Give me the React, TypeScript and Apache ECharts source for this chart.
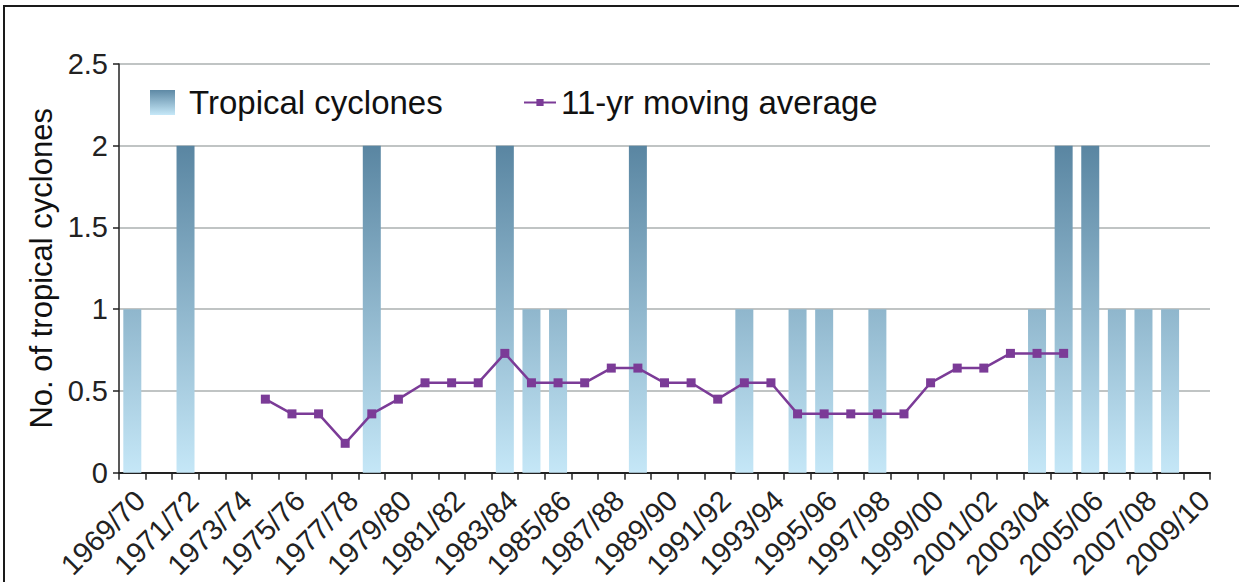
import React, { useEffect, useRef } from "react";
import * as echarts from "echarts";

const categories = [
  "1969/70", "1970/71", "1971/72", "1972/73", "1973/74", "1974/75", "1975/76",
  "1976/77", "1977/78", "1978/79", "1979/80", "1980/81", "1981/82", "1982/83",
  "1983/84", "1984/85", "1985/86", "1986/87", "1987/88", "1988/89", "1989/90",
  "1990/91", "1991/92", "1992/93", "1993/94", "1994/95", "1995/96", "1996/97",
  "1997/98", "1998/99", "1999/00", "2000/01", "2001/02", "2002/03", "2003/04",
  "2004/05", "2005/06", "2006/07", "2007/08", "2008/09", "2009/10",
];

const cyclones = [
  1, 0, 2, 0, 0, 0, 0, 0, 0, 2, 0, 0, 0, 0, 2, 1, 1, 0, 0, 2, 0,
  0, 0, 1, 0, 1, 1, 0, 1, 0, 0, 0, 0, 0, 1, 2, 2, 1, 1, 1, 0,
];

const movingAverage = [
  null, null, null, null, null, 0.45, 0.36, 0.36, 0.18, 0.36, 0.45,
  0.55, 0.55, 0.55, 0.73, 0.55, 0.55, 0.55, 0.64, 0.64, 0.55,
  0.55, 0.45, 0.55, 0.55, 0.36, 0.36, 0.36, 0.36, 0.36, 0.55,
  0.64, 0.64, 0.73, 0.73, 0.73, null, null, null, null, null,
];

const yTicks = [0, 0.5, 1, 1.5, 2, 2.5];

const FONT = "'Liberation Sans', Arial, Helvetica, sans-serif";
const PURPLE = "#7b3b97";

export default function App() {
  const ref = useRef<HTMLDivElement>(null);

  useEffect(() => {
    if (!ref.current) return;
    const chart = echarts.init(ref.current, undefined, { renderer: "svg" });

    const barGradient = new echarts.graphic.LinearGradient(
      0, 147, 0, 476,
      [
        { offset: 0, color: "#5a86a2" },
        { offset: 1, color: "#c6e8f8" },
      ],
      true
    );
    const iconGradient = new echarts.graphic.LinearGradient(0, 0, 0, 1, [
      { offset: 0, color: "#5e89a5" },
      { offset: 1, color: "#c6e8f8" },
    ]);

    chart.setOption({
      animation: false,
      backgroundColor: "#ffffff",
      textStyle: { fontFamily: FONT },
      grid: { left: 119, right: 29, top: 64, bottom: 106, containLabel: false },
      legend: [
        {
          data: [{ name: "Tropical cyclones", icon: "rect", itemStyle: { color: iconGradient } }],
          left: 150,
          top: 86,
          padding: 0,
          itemWidth: 25,
          itemHeight: 25,
          textStyle: { fontSize: 33, color: "#111", fontFamily: FONT, padding: [0, 0, 0, 9] },
          selectedMode: false,
        },
        {
          data: ["11-yr moving average"],
          left: 523,
          top: 86,
          padding: 0,
          itemWidth: 32,
          itemHeight: 9,
          textStyle: { fontSize: 33, color: "#111", fontFamily: FONT },
          selectedMode: false,
        },
      ],
      xAxis: {
        type: "category",
        data: categories,
        boundaryGap: true,
        axisLine: { show: true, lineStyle: { color: "#222", width: 2 } },
        axisTick: { show: true, interval: 0, length: 7, lineStyle: { color: "#222", width: 1.5 } },
        axisLabel: {
          interval: 1,
          rotate: 45,
          fontSize: 29,
          color: "#222",
          fontFamily: FONT,
          margin: 15,
          verticalAlign: "top",
          lineHeight: 22,
        },
        splitLine: { show: false },
      },
      yAxis: {
        type: "value",
        min: yTicks[0],
        max: yTicks[yTicks.length - 1],
        interval: 0.5,
        name: "No. of tropical cyclones",
        nameLocation: "middle",
        nameGap: 58,
        nameRotate: 90,
        nameTextStyle: { fontSize: 31, color: "#111", fontFamily: FONT },
        axisLine: { show: true, lineStyle: { color: "#222", width: 1.5 } },
        axisTick: { show: true, length: 6, lineStyle: { color: "#222", width: 1.5 } },
        axisLabel: { fontSize: 29, color: "#222", fontFamily: FONT, margin: 11 },
        splitLine: { show: true, lineStyle: { color: "#c0c4c4", width: 2 } },
      },
      series: [
        {
          name: "Tropical cyclones",
          type: "bar",
          data: cyclones,
          barWidth: 18,
          itemStyle: { color: barGradient },
          z: 2,
        },
        {
          name: "11-yr moving average",
          type: "line",
          data: movingAverage,
          symbol: "rect",
          symbolSize: 9,
          showSymbol: true,
          connectNulls: false,
          lineStyle: { color: PURPLE, width: 2.5 },
          itemStyle: { color: PURPLE },
          z: 3,
        },
      ],
      graphic: [
        {
          type: "rect",
          shape: { x: 4, y: 6, width: 1400, height: 800 },
          style: { fill: "none", stroke: "#1a1a1a", lineWidth: 2 },
          silent: true,
          z: 100,
        },
      ],
    });

    return () => chart.dispose();
  }, []);

  return (
    <div
      ref={ref}
      style={{ position: "absolute", left: 0, top: 0, width: 1239, height: 582, background: "#fff" }}
    />
  );
}
